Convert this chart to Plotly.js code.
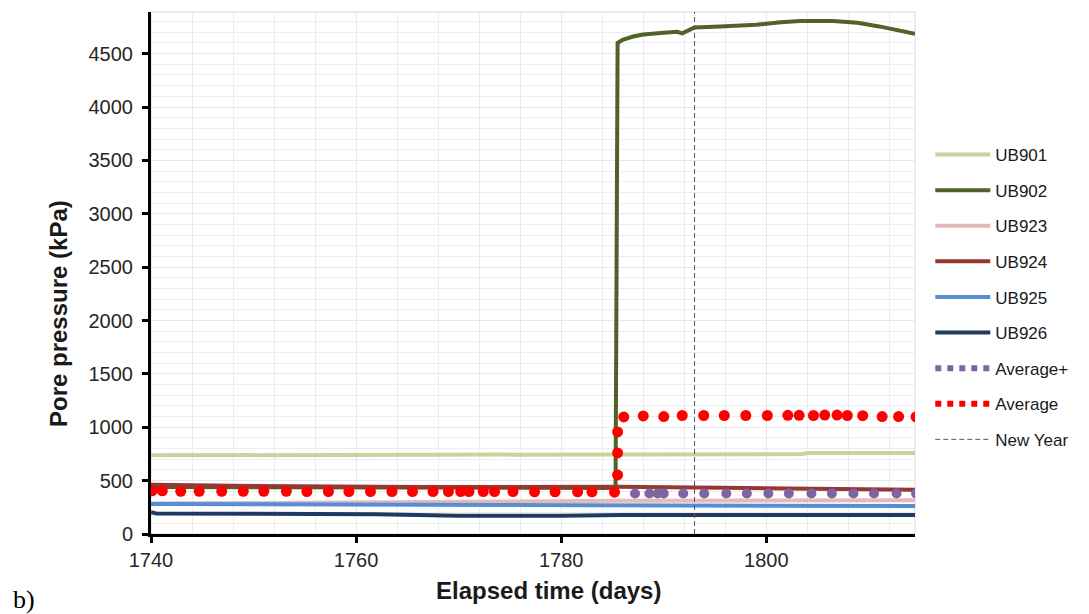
<!DOCTYPE html>
<html>
<head>
<meta charset="utf-8">
<script src="https://cdn.plot.ly/plotly-3.0.1.min.js"></script>
<style>html,body{margin:0;padding:0;background:#fff;}#chart{width:1089px;height:614px;}</style>
</head>
<body>
<div id="chart"></div>
<script>
// ---- data ----
const ub901X = [1740, 1772, 1772.5, 1803.5, 1804, 1814.5];
const ub901Y = [737, 739, 747, 749, 758, 759];

const ub902X = [1740, 1760, 1785.3, 1785.5, 1786, 1787, 1788, 1790, 1791.3, 1791.8, 1793, 1795.5, 1799, 1801.4, 1803.3, 1806.5, 1808.9, 1811, 1813, 1814.5];
const ub902Y = [440, 435, 430, 4600, 4630, 4660, 4680, 4695, 4705, 4690, 4745, 4755, 4770, 4795, 4805, 4805, 4790, 4755, 4720, 4685];

const ub923X = [1740, 1768, 1786, 1814.5];
const ub923Y = [285, 300, 312, 316];

const ub924X = [1740, 1747, 1748, 1766, 1776, 1785.4, 1798, 1814.5];
const ub924Y = [462, 460, 452, 440, 438, 443, 431, 414];

const ub925X = [1740, 1768, 1786, 1814.5];
const ub925Y = [280, 270, 265, 262];

const ub926X = [1740, 1740.5, 1762, 1770, 1780, 1786, 1814.5];
const ub926Y = [205, 192, 185, 170, 172, 178, 178];

const avgPlusX = [1787.2, 1788.6, 1789.4, 1790.0, 1791.9, 1793.95, 1796.1, 1798.1, 1800.2, 1802.2, 1804.4, 1806.4, 1808.5, 1810.5, 1812.7, 1814.6];
const avgPlusY = [380, 380, 380, 380, 380, 380, 380, 380, 380, 380, 380, 380, 380, 380, 380, 380];

const avgX = [1740.1, 1741.1, 1742.9, 1744.7, 1746.9, 1749.0, 1751.0, 1753.2, 1755.2, 1757.3, 1759.3, 1761.4, 1763.5, 1765.5, 1767.5, 1769.0, 1770.2, 1771.0, 1772.4, 1773.5, 1775.3, 1777.4, 1779.4, 1781.6, 1783.0, 1785.2, 1785.5, 1785.5, 1785.5, 1786.1, 1788.0, 1790.0, 1791.8, 1793.9, 1795.9, 1798.0, 1800.1, 1802.1, 1803.2, 1804.6, 1805.7, 1806.9, 1807.9, 1809.4, 1811.3, 1812.9, 1814.6];
const avgY = [405, 405, 400, 400, 400, 400, 400, 400, 398, 398, 398, 398, 398, 398, 398, 398, 398, 398, 398, 398, 398, 395, 395, 395, 395, 392, 553, 759, 956, 1097, 1106, 1100, 1110, 1110, 1110, 1110, 1110, 1112, 1112, 1110, 1114, 1114, 1110, 1108, 1100, 1100, 1097];

const newYearX = [1793, 1793];
const newYearY = [0, 4890];

const xRange = [1740, 1814.5];
const yRange = [0, 4890];

const xTitle = 'Elapsed time (days)';
const yTitle = 'Pore pressure (kPa)';

// ---- traces ----
function lineTrace(name, x, y, color) {
  return {x: x, y: y, name: name, type: 'scatter', mode: 'lines', legendgroup: name,
          line: {color: color, width: 4}, hoverinfo: 'skip'};
}
const traces = [
  lineTrace('UB901', ub901X, ub901Y, '#c3d69b'),
  lineTrace('UB902', ub902X, ub902Y, '#4f6228'),
  lineTrace('UB923', ub923X, ub923Y, '#e6b9b8'),
  lineTrace('UB924', ub924X, ub924Y, '#953735'),
  lineTrace('UB925', ub925X, ub925Y, '#558ed5'),
  lineTrace('UB926', ub926X, ub926Y, '#1f3864'),
  {x: avgPlusX, y: avgPlusY, name: 'Average+', type: 'scatter', mode: 'markers', legendgroup: 'Average+',
   showlegend: false, marker: {color: '#8064a2', size: 10}},
  {x: [null], y: [null], name: 'Average+', type: 'scatter', mode: 'lines', legendgroup: 'Average+',
   line: {color: '#8064a2', width: 6, dash: '6px,6px'}},
  {x: avgX, y: avgY, name: 'Average', type: 'scatter', mode: 'markers', legendgroup: 'Average',
   showlegend: false, marker: {color: '#ff0000', size: 11}},
  {x: [null], y: [null], name: 'Average', type: 'scatter', mode: 'lines', legendgroup: 'Average',
   line: {color: '#ff0000', width: 6, dash: '6px,6px'}},
  {x: newYearX, y: newYearY, name: 'New Year', type: 'scatter', mode: 'lines', legendgroup: 'New Year',
   line: {color: '#595959', width: 1, dash: '5px,3px'}}
];

const layout = {
  width: 1089, height: 614,
  margin: {l: 151, r: 174, t: 12, b: 80},
  paper_bgcolor: '#ffffff', plot_bgcolor: '#ffffff',
  font: {family: '"Liberation Sans", Arial, sans-serif', color: '#1a1a1a'},
  showlegend: true,
  legend: {x: 1.02, xanchor: 'left', y: 0.7605, yanchor: 'top', font: {size: 17, color: '#1a1a1a'},
           tracegroupgap: 10.5, itemwidth: 55, bgcolor: 'rgba(0,0,0,0)'},
  xaxis: {
    range: xRange, dtick: 20, tick0: 1740, showgrid: true, gridcolor: '#e8e8e8', gridwidth: 1,
    minor: {dtick: 4, showgrid: true, gridcolor: '#ededed', ticks: ''},
    zeroline: false, showline: true, linecolor: '#000', linewidth: 3,
    ticks: 'outside', ticklen: 6, tickwidth: 3, tickcolor: '#000',
    tickfont: {size: 20, color: '#262626'}
  },
  yaxis: {
    range: yRange, dtick: 500, tick0: 0, showgrid: true, gridcolor: '#e8e8e8', gridwidth: 1,
    minor: {dtick: 100, showgrid: true, gridcolor: '#ededed', ticks: ''},
    zeroline: false, showline: true, linecolor: '#000', linewidth: 3,
    ticks: 'outside', ticklen: 6, tickwidth: 3, tickcolor: '#000',
    tickfont: {size: 20, color: '#262626'}, ticklabelstandoff: 5
  },
  shapes: [
    {type: 'rect', xref: 'paper', yref: 'paper', x0: 0, x1: 1, y0: 0, y1: 1,
     line: {color: '#d9d9d9', width: 1}, layer: 'below'}
  ],
  annotations: [
    {text: '<b>' + xTitle + '</b>', xref: 'paper', yref: 'paper', x: (548 - 151) / 764, y: (534 - 590) / 522,
     xanchor: 'center', yanchor: 'middle', showarrow: false, font: {size: 24, color: '#1a1a1a'}},
    {text: '<b>' + yTitle + '</b>', xref: 'paper', yref: 'paper', x: (58 - 151) / 764, y: (534 - 314) / 522,
     xanchor: 'center', yanchor: 'middle', textangle: -90, showarrow: false, font: {size: 24, color: '#1a1a1a'}},
    {text: 'b)', xref: 'paper', yref: 'paper', x: -0.183, y: -0.125, xanchor: 'left', yanchor: 'middle',
     showarrow: false, font: {family: '"Liberation Serif", "Times New Roman", serif', size: 26, color: '#000'}}
  ]
};

Plotly.newPlot('chart', traces, layout, {displayModeBar: false, staticPlot: true});
</script>
</body>
</html>
